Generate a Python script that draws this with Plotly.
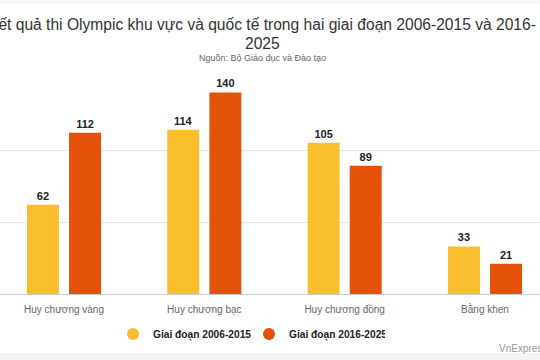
import plotly.graph_objects as go

categories = ["Huy chương vàng", "Huy chương bạc", "Huy chương đồng", "Bằng khen"]
series_names = ["Giai đoạn 2006-2015", "Giai đoạn 2016-2025"]
values_2006_2015 = [62, 114, 105, 33]
values_2016_2025 = [112, 140, 89, 21]
colors = ["#F8BE2D", "#E35208"]
title_lines = ["Kết quả thi Olympic khu vực và quốc tế trong hai giai đoạn 2006-2015 và 2016-", "2025"]
subtitle = "Nguồn: Bộ Giáo dục và Đào tạo"

FONT = "Liberation Sans, Arial, sans-serif"
CX = 262 / 540  # horizontal centre of the header

fig = go.Figure()
for name, vals, col in zip(series_names, [values_2006_2015, values_2016_2025], colors):
    fig.add_trace(go.Bar(
        x=categories, y=vals, name=name, marker=dict(color=col, line=dict(width=0)),
        text=[f"<b>{v}</b>" for v in vals], textposition="outside", cliponaxis=False,
        textfont=dict(family=FONT, size=11, color="#222222"),
        showlegend=False,
    ))
# legend entries with circular markers
for name, col in zip(series_names, colors):
    fig.add_trace(go.Scatter(
        x=[None], y=[None], mode="markers", name=f"<b>{name}</b>",
        marker=dict(symbol="circle", size=11, color=col),
    ))

def py(px):
    """pixel row -> paper y (plot area spans rows 78..294)"""
    return (294 - px) / 216

fig.update_layout(
    template="none",
    width=540, height=360,
    margin=dict(l=0, r=0, t=78, b=66, autoexpand=False),
    paper_bgcolor="white", plot_bgcolor="white",
    barmode="group", bargap=0.40, bargroupgap=0.24,
    font=dict(family=FONT),
    xaxis=dict(
        range=[-0.456, 3.392], showgrid=False, showline=False, ticks="", automargin=False,
        tickfont=dict(size=10, color="#666666", family=FONT), ticklabelstandoff=8,
    ),
    yaxis=dict(
        range=[0, 150], dtick=50, showticklabels=False, showgrid=True, automargin=False,
        gridcolor="#E6E6E6", gridwidth=1, zeroline=True, zerolinecolor="#CCCCCC", zerolinewidth=1,
        showline=False, ticks="",
    ),
    legend=dict(
        orientation="h", x=249 / 540, xanchor="center", xref="container",
        y=1 - 334/360, yanchor="middle", yref="container",
        font=dict(size=10.2, color="#222222", family=FONT),
        itemsizing="constant", traceorder="normal", bgcolor="rgba(0,0,0,0)",
        entrywidth=91, entrywidthmode="pixels",
    ),
    shapes=[
        dict(type="rect", xref="paper", yref="paper", x0=0, x1=1,
             y0=py(353), y1=py(360), fillcolor="#F4F4F4", line=dict(width=0), layer="below"),
        dict(type="rect", xref="paper", yref="paper", x0=0, x1=1,
             y0=py(4), y1=py(0), fillcolor="#F7F7F7", line=dict(width=0), layer="below"),
    ],
    annotations=[
        dict(text=title_lines[0], xref="paper", yref="paper", x=CX, y=py(25),
             xanchor="center", yanchor="middle", showarrow=False,
             font=dict(size=15.6, color="#333333", family=FONT)),
        dict(text=title_lines[1], xref="paper", yref="paper", x=CX, y=py(43),
             xanchor="center", yanchor="middle", showarrow=False,
             font=dict(size=15.6, color="#333333", family=FONT)),
        dict(text=subtitle, xref="paper", yref="paper",
             x=CX, y=py(58), xanchor="center", yanchor="middle", showarrow=False,
             font=dict(size=9, color="#666666", family=FONT)),
        dict(text="VnExpress", xref="paper", yref="paper",
             x=497/540, y=py(348), xanchor="left", yanchor="middle", showarrow=False,
             font=dict(size=10, color="#999999", family=FONT)),
    ],
)
fig.write_html(
    "out.html",
    config={"displayModeBar": False},
    post_script="document.body.style.margin='0';document.body.style.overflow='hidden';",
)
